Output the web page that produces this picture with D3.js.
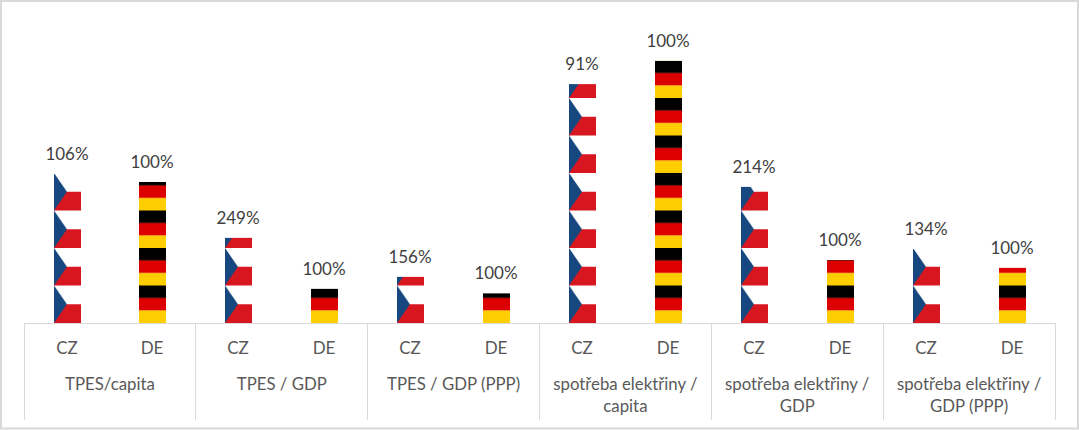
<!DOCTYPE html>
<html><head><meta charset="utf-8">
<script src="https://cdnjs.cloudflare.com/ajax/libs/d3/7.8.5/d3.min.js"></script>
<style>html,body{margin:0;padding:0;background:#fff}svg{display:block}text{font-family:Lato,"Open Sans",sans-serif}</style>
</head><body><svg id="c" width="1079" height="430"></svg>
<script>
const groups = [["TPES/capita"],["TPES / GDP"],["TPES / GDP (PPP)"],["spotřeba elektřiny /","capita"],["spotřeba elektřiny /","GDP"],["spotřeba elektřiny /","GDP (PPP)"]];
const countries = ["CZ","DE"];
const valuesCZ = [3.97,2.27,1.23,6.37,3.63,1.97];
const valuesDE = [3.76,0.91,0.79,6.99,1.68,1.47];
const labelsCZ = ["106%","249%","156%","91%","214%","134%"];
const labelsDE = ["100%","100%","100%","100%","100%","100%"];

const W=1079,H=430,base=323,barW=27;
const svg=d3.select("#c");
svg.append("rect").attr("x",1).attr("y",1).attr("width",W-2).attr("height",H-2.5).attr("fill","#fff").attr("stroke","#d9d9d9").attr("stroke-width",2);

const x0=d3.scaleBand().domain(d3.range(groups.length)).range([24,1055]);
const x1=d3.scalePoint().domain(countries).range([0,x0.bandwidth()]).padding(0.5);
const y=d3.scaleLinear().domain([0,7.6]).range([base,base-7.6*37.5]);
const tile=y(0)-y(1);

const data=groups.flatMap((g,i)=>countries.map((c,j)=>({g:i,c,v:(j?valuesDE:valuesCZ)[i],l:(j?labelsDE:labelsCZ)[i]})));
const bx=d=>Math.round(x0(d.g)+x1(d.c)-barW/2+0.1);
const defs=svg.append("defs");
data.forEach((d,i)=>{
  const p=defs.append("pattern").attr("id","p"+i).attr("patternUnits","userSpaceOnUse")
    .attr("x",bx(d)).attr("y",base).attr("width",barW).attr("height",tile);
  if(d.c==="CZ"){
    p.append("rect").attr("width",barW).attr("height",tile).attr("fill","#fff");
    p.append("rect").attr("y",tile/2).attr("width",barW).attr("height",tile/2).attr("fill","#d8161f");
    p.append("path").attr("d",`M0,0L${barW*0.48},${tile/2}L0,${tile}Z`).attr("fill","#17477f");
  } else {
    ["#000000","#dd0000","#ffce00"].forEach((col,k)=>p.append("rect").attr("y",k*tile/3).attr("width",barW).attr("height",tile/3+0.2).attr("fill",col));
  }
});
svg.append("g").selectAll("rect").data(data).join("rect")
  .attr("x",bx).attr("y",d=>y(d.v)).attr("width",barW).attr("height",d=>y(0)-y(d.v))
  .attr("fill",(d,i)=>`url(#p${i})`);
svg.append("g").selectAll("text").data(data).join("text")
  .attr("x",d=>bx(d)+barW/2-0.5).attr("y",d=>y(d.v)-14).attr("text-anchor","middle")
  .attr("font-size",17).attr("fill","#404040").text(d=>d.l);

const ax=svg.append("g").attr("stroke","#d9d9d9").attr("stroke-width",1);
ax.append("line").attr("x1",24).attr("x2",1055).attr("y1",base+0.5).attr("y2",base+0.5);
d3.range(groups.length+1).forEach(i=>{
  const xx=Math.floor(i<groups.length?x0(i):x0.range()[1])+0.5;
  ax.append("line").attr("x1",xx).attr("x2",xx).attr("y1",base).attr("y2",420);
});
svg.append("g").selectAll("text").data(data).join("text")
  .attr("x",d=>bx(d)+barW/2-0.5).attr("y",353.5).attr("text-anchor","middle")
  .attr("font-size",17).attr("fill","#595959").text(d=>d.c);
const gl=svg.append("g").selectAll("text").data(groups).join("text")
  .attr("text-anchor","middle").attr("font-size",16.8).attr("fill","#595959");
gl.each(function(g,i){
  g.forEach((t,k)=>d3.select(this).append("tspan").attr("x",x0(i)+x0.bandwidth()/2).attr("y",390+k*22).text(t));
});
</script></body></html>
